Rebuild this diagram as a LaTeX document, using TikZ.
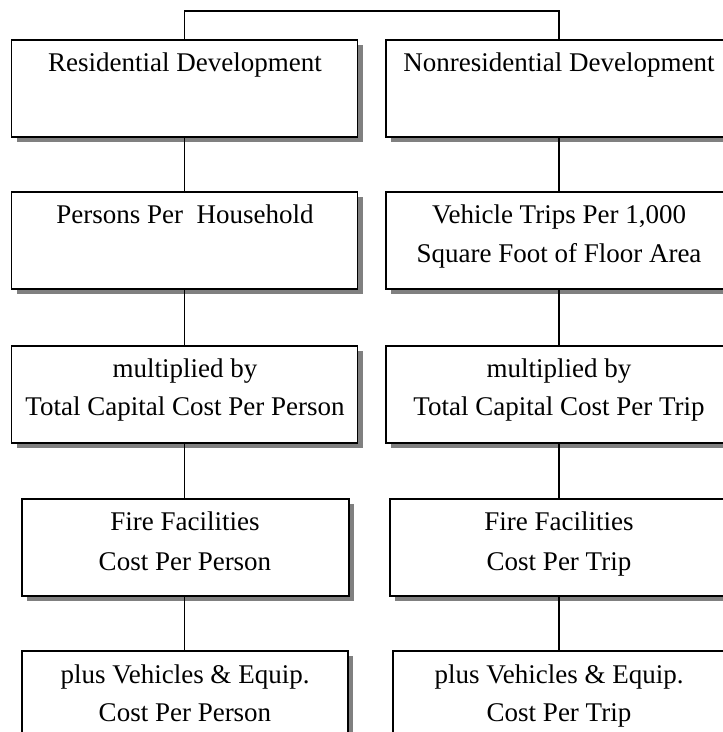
\documentclass[tikz,border=0pt]{standalone}
\usepackage{fontspec}
\setmainfont{Liberation Serif}
\usetikzlibrary{shadows}
\begin{document}
\begin{tikzpicture}[x=1pt,y=-1pt,
  box/.style={draw=black, line width=1.6pt, fill=white, rectangle, minimum height=97pt, inner sep=0pt,
    drop shadow={shadow xshift=5pt, shadow yshift=-5pt, fill=black!50, opacity=1}},
  lbl/.style={anchor=base, inner sep=0pt, font=\fontsize{27}{39}\selectfont},
  conn/.style={draw=black, line width=1.3pt}]
\useasboundingbox (0,0) rectangle (723,732);
\clip (0,0) rectangle (723,732);
% left column boxes
\node[box, minimum width=346pt] (l1) at (184.5,88.5) {};
\node[box, minimum width=346pt] (l2) at (184.5,240.5) {};
\node[box, minimum width=346pt] (l3) at (184.5,394.5) {};
\node[box, minimum width=327pt] (l4) at (185.5,547.5) {};
\node[box, minimum width=326pt] (l5) at (185,699.5) {};
% right column boxes
\node[box, minimum width=346pt] (r1) at (559,88.5) {};
\node[box, minimum width=346pt] (r2) at (559,240.5) {};
\node[box, minimum width=346pt] (r3) at (559,394.5) {};
\node[box, minimum width=338pt] (r4) at (559,547.5) {};
\node[box, minimum width=332pt] (r5) at (559,699.5) {};
% texts left
\node[lbl] (l1a) at (185,71) {Residential Development};
\node[lbl] (l2a) at (185,223) {Persons Per~~Household};
\node[lbl] (l3a) at (185,377) {multiplied by};
\node[lbl] (l3b) at (185,415) {Total Capital Cost Per Person};
\node[lbl] (l4a) at (185,530) {Fire Facilities};
\node[lbl] (l4b) at (185,570) {Cost Per Person};
\node[lbl] (l5a) at (185,683) {plus Vehicles \& Equip.};
\node[lbl] (l5b) at (185,721) {Cost Per Person};
% texts right
\node[lbl] (r1a) at (559,71) {Nonresidential Development};
\node[lbl] (r2a) at (559,223) {Vehicle Trips Per 1,000};
\node[lbl] (r2b) at (559,262) {Square Foot of Floor Area};
\node[lbl] (r3a) at (559,377) {multiplied by};
\node[lbl] (r3b) at (559,415) {Total Capital Cost Per Trip};
\node[lbl] (r4a) at (559,530) {Fire Facilities};
\node[lbl] (r4b) at (559,570) {Cost Per Trip};
\node[lbl] (r5a) at (559,683) {plus Vehicles \& Equip.};
\node[lbl] (r5b) at (559,721) {Cost Per Trip};
% top connector
\coordinate (topl) at (184.5,11);
\coordinate (topr) at (559,11);
\draw[conn] (l1.north) -- (topl) -- (topr) -- (r1.north);
% column connectors
\draw[conn] (l1.south) -- (l2.north);
\draw[conn] (l2.south) -- (l3.north);
\draw[conn] (l3.south) -- (l3.south |- l4.north);
\draw[conn] (l3.south |- l4.south) -- (l3.south |- l5.north);
\draw[conn] (r1.south) -- (r2.north);
\draw[conn] (r2.south) -- (r3.north);
\draw[conn] (r3.south) -- (r4.north);
\draw[conn] (r4.south) -- (r5.north);
\end{tikzpicture}
\end{document}
